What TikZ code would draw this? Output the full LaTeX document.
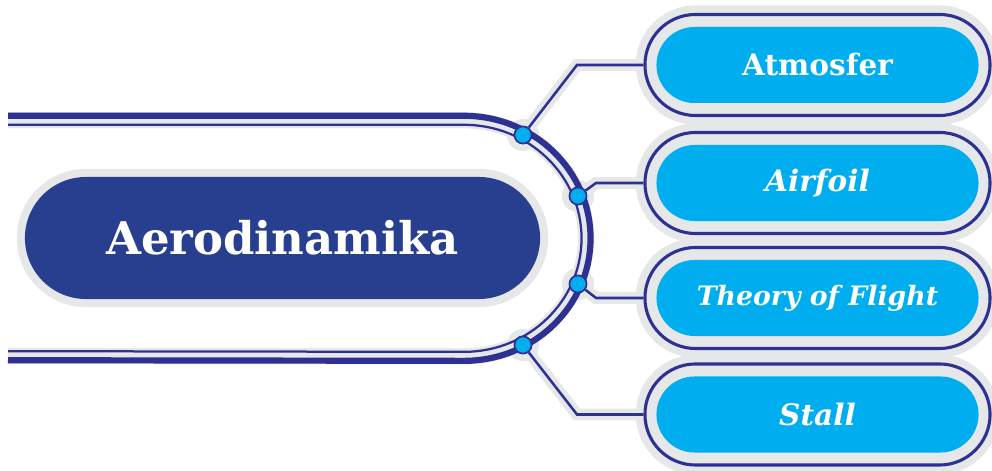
\documentclass[tikz,border=0pt]{standalone}
\usepackage{fontspec}
\setmainfont{DejaVu Serif}
\usetikzlibrary{backgrounds}

\definecolor{navy}{RGB}{46,49,146}
\definecolor{deepblue}{RGB}{39,63,142}
\definecolor{skyblue}{RGB}{0,174,239}
\definecolor{halo}{RGB}{230,231,232}

\begin{document}
\begin{tikzpicture}[
    x=0.025cm,
    y=0.025cm,
    mainpill/.style={
        rectangle,
        fill=deepblue,
        rounded corners=1.525cm,
        minimum width=12.875cm,
        minimum height=3.05cm,
        text=white,
        font=\fontsize{32}{38}\selectfont\bfseries,
        preaction={draw=halo, line width=11.5pt}
    },
    ring/.style={
        rectangle,
        fill=halo,
        draw=navy,
        line width=2.2pt,
        rounded corners=1.2625cm,
        minimum width=8.625cm,
        minimum height=2.525cm,
        preaction={draw=halo, line width=13pt}
    },
    topic/.style={
        rectangle,
        fill=skyblue,
        rounded corners=0.95cm,
        minimum width=8.05cm,
        minimum height=1.9cm,
        text=white,
        font=\fontsize{21}{25}\selectfont\bfseries
    },
    dot/.style={
        circle,
        fill=skyblue,
        draw=navy,
        line width=1.2pt,
        inner sep=0pt,
        minimum size=0.43cm
    },
    bracketthick/.style={
        draw=navy,
        line width=4.4pt
    },
    bracketthin/.style={
        draw=navy,
        line width=1.6pt
    },
    branch/.style={
        draw=navy,
        line width=1.8pt
    },
    branchhalo/.style={
        draw=halo,
        line width=8.5pt
    }
]

    \useasboundingbox (0,0) rectangle (992,471);

    % Central topic
    \node[mainpill] (aero) at (282.5,233) {Aerodinamika};

    % Topic boxes
    \node[ring] (atmr) at (817.5,406) {};
    \node[topic] (atm) at (atmr) {Atmosfer};

    \node[ring] (airr) at (817.5,288) {};
    \node[topic] (air) at (airr) {\itshape Airfoil};

    \node[ring] (thr) at (817.5,173) {};
    \node[topic] (th) at (thr) {\fontsize{19}{23}\selectfont\itshape Theory of Flight};

    \node[ring] (stlr) at (817.5,56.5) {};
    \node[topic] (stl) at (stlr) {\itshape Stall};

    % Bracket
    \draw[bracketthick] (8,355.2) -- (464,355.2)
        arc[start angle=90, end angle=-90, x radius=3.1625cm, y radius=3.0625cm] -- (8,110.8);
    \draw[bracketthin] (8,346.2) -- (464,346.2)
        arc[start angle=90, end angle=-90, x radius=2.9375cm, y radius=2.8375cm] -- (8,119.8);

    % Junctions
    \node[dot] (d1) at (523,336) {};
    \node[dot] (d2) at (578,275) {};
    \node[dot] (d3) at (578,187) {};
    \node[dot] (d4) at (523,126) {};

    \coordinate (c1) at (577,406);
    \coordinate (c2) at (596,288);
    \coordinate (c3) at (596,173);
    \coordinate (c4) at (577,56.5);

    % Branches
    \draw[branch] (d1) -- (c1) -- (atmr.west);
    \draw[branch] (d2) -- (c2) -- (airr.west);
    \draw[branch] (d3) -- (c3) -- (thr.west);
    \draw[branch] (d4) -- (c4) -- (stlr.west);

    % Grey halos
    \begin{scope}[on background layer]
        \draw[draw=halo, line width=11.5pt] (8,350.7) -- (464,350.7)
            arc[start angle=90, end angle=-90, x radius=3.05cm, y radius=2.95cm] -- (8,115.3);
        \foreach \d in {d1,d2,d3,d4}
            \fill[halo] (\d) circle[radius=0.4cm];
        \draw[branchhalo] (d1) -- (c1) -- (atmr.west);
        \draw[branchhalo] (d2) -- (c2) -- (airr.west);
        \draw[branchhalo] (d3) -- (c3) -- (thr.west);
        \draw[branchhalo] (d4) -- (c4) -- (stlr.west);
    \end{scope}

\end{tikzpicture}
\end{document}
